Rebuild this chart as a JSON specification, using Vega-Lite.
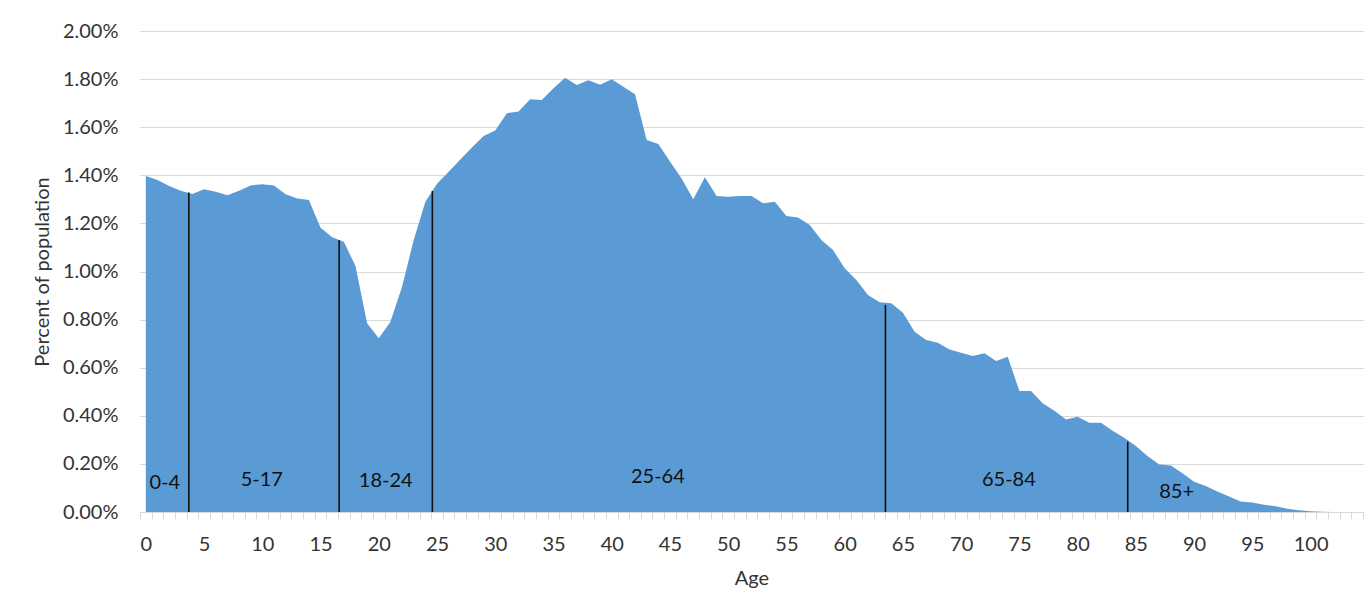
{
  "$schema": "https://vega.github.io/schema/vega-lite/v6.json",
  "width": 1223,
  "height": 481,
  "autosize": {"type": "none"},
  "padding": {"left": 140, "top": 31, "right": 9, "bottom": 89},
  "background": "white",
  "config": {
    "view": {"stroke": null},
    "font": "Lato",
    "axis": {"labelFont": "Lato", "titleFont": "Lato", "labelColor": "#333333", "titleColor": "#333333", "labelFontWeight": "normal", "titleFontWeight": "normal"}
  },
  "datasets": {
    "pop": [
      {"age": 0, "pct": 1.397}, {"age": 1, "pct": 1.380}, {"age": 2, "pct": 1.356}, {"age": 3, "pct": 1.336}, {"age": 4, "pct": 1.322},
      {"age": 5, "pct": 1.342}, {"age": 6, "pct": 1.332}, {"age": 7, "pct": 1.317}, {"age": 8, "pct": 1.336}, {"age": 9, "pct": 1.358},
      {"age": 10, "pct": 1.363}, {"age": 11, "pct": 1.358}, {"age": 12, "pct": 1.321}, {"age": 13, "pct": 1.304}, {"age": 14, "pct": 1.297},
      {"age": 15, "pct": 1.182}, {"age": 16, "pct": 1.142}, {"age": 17, "pct": 1.124}, {"age": 18, "pct": 1.023}, {"age": 19, "pct": 0.785},
      {"age": 20, "pct": 0.722}, {"age": 21, "pct": 0.791}, {"age": 22, "pct": 0.937}, {"age": 23, "pct": 1.131}, {"age": 24, "pct": 1.290},
      {"age": 25, "pct": 1.365}, {"age": 26, "pct": 1.415}, {"age": 27, "pct": 1.466}, {"age": 28, "pct": 1.516}, {"age": 29, "pct": 1.563},
      {"age": 30, "pct": 1.586}, {"age": 31, "pct": 1.658}, {"age": 32, "pct": 1.665}, {"age": 33, "pct": 1.716}, {"age": 34, "pct": 1.713},
      {"age": 35, "pct": 1.762}, {"age": 36, "pct": 1.806}, {"age": 37, "pct": 1.775}, {"age": 38, "pct": 1.795}, {"age": 39, "pct": 1.777},
      {"age": 40, "pct": 1.799}, {"age": 41, "pct": 1.768}, {"age": 42, "pct": 1.737}, {"age": 43, "pct": 1.547}, {"age": 44, "pct": 1.530},
      {"age": 45, "pct": 1.457}, {"age": 46, "pct": 1.387}, {"age": 47, "pct": 1.300}, {"age": 48, "pct": 1.392}, {"age": 49, "pct": 1.314},
      {"age": 50, "pct": 1.311}, {"age": 51, "pct": 1.314}, {"age": 52, "pct": 1.314}, {"age": 53, "pct": 1.284}, {"age": 54, "pct": 1.290},
      {"age": 55, "pct": 1.231}, {"age": 56, "pct": 1.225}, {"age": 57, "pct": 1.193}, {"age": 58, "pct": 1.131}, {"age": 59, "pct": 1.089},
      {"age": 60, "pct": 1.013}, {"age": 61, "pct": 0.965}, {"age": 62, "pct": 0.902}, {"age": 63, "pct": 0.872}, {"age": 64, "pct": 0.868},
      {"age": 65, "pct": 0.829}, {"age": 66, "pct": 0.750}, {"age": 67, "pct": 0.715}, {"age": 68, "pct": 0.704}, {"age": 69, "pct": 0.676},
      {"age": 70, "pct": 0.662}, {"age": 71, "pct": 0.649}, {"age": 72, "pct": 0.660}, {"age": 73, "pct": 0.628}, {"age": 74, "pct": 0.646},
      {"age": 75, "pct": 0.503}, {"age": 76, "pct": 0.503}, {"age": 77, "pct": 0.452}, {"age": 78, "pct": 0.421}, {"age": 79, "pct": 0.385},
      {"age": 80, "pct": 0.396}, {"age": 81, "pct": 0.371}, {"age": 82, "pct": 0.371}, {"age": 83, "pct": 0.338}, {"age": 84, "pct": 0.309},
      {"age": 85, "pct": 0.274}, {"age": 86, "pct": 0.233}, {"age": 87, "pct": 0.197}, {"age": 88, "pct": 0.193}, {"age": 89, "pct": 0.161},
      {"age": 90, "pct": 0.126}, {"age": 91, "pct": 0.108}, {"age": 92, "pct": 0.085}, {"age": 93, "pct": 0.064}, {"age": 94, "pct": 0.044},
      {"age": 95, "pct": 0.039}, {"age": 96, "pct": 0.030}, {"age": 97, "pct": 0.024}, {"age": 98, "pct": 0.014}, {"age": 99, "pct": 0.007},
      {"age": 100, "pct": 0.003}, {"age": 101, "pct": 0.001}, {"age": 102, "pct": 0}, {"age": 103, "pct": 0}, {"age": 104, "pct": 0}
    ],
    "bounds": [
      {"age": 3.69, "top": 1.328},
      {"age": 16.6, "top": 1.131},
      {"age": 24.6, "top": 1.335},
      {"age": 63.5, "top": 0.861},
      {"age": 84.3, "top": 0.292}
    ],
    "groups": [
      {"age": 1.63, "pos": 0.121, "label": "0-4"},
      {"age": 9.96, "pos": 0.133, "label": "5-17"},
      {"age": 20.6, "pos": 0.129, "label": "18-24"},
      {"age": 43.96, "pos": 0.144, "label": "25-64"},
      {"age": 74.1, "pos": 0.133, "label": "65-84"},
      {"age": 88.5, "pos": 0.084, "label": "85+"}
    ]
  },
  "layer": [
    {
      "data": {"name": "pop"},
      "mark": {"type": "area", "color": "#5B9BD5", "interpolate": "linear"},
      "encoding": {
        "x": {
          "field": "age", "type": "quantitative",
          "scale": {"domain": [-0.5, 104.5], "nice": false, "zero": false},
          "axis": {
            "title": "Age",
            "titleFontSize": 20,
            "titleY": 66,
            "titleBaseline": "middle",
            "tickCount": 500,
            "values": [-0.5,0.5,1.5,2.5,3.5,4.5,5.5,6.5,7.5,8.5,9.5,10.5,11.5,12.5,13.5,14.5,15.5,16.5,17.5,18.5,19.5,20.5,21.5,22.5,23.5,24.5,25.5,26.5,27.5,28.5,29.5,30.5,31.5,32.5,33.5,34.5,35.5,36.5,37.5,38.5,39.5,40.5,41.5,42.5,43.5,44.5,45.5,46.5,47.5,48.5,49.5,50.5,51.5,52.5,53.5,54.5,55.5,56.5,57.5,58.5,59.5,60.5,61.5,62.5,63.5,64.5,65.5,66.5,67.5,68.5,69.5,70.5,71.5,72.5,73.5,74.5,75.5,76.5,77.5,78.5,79.5,80.5,81.5,82.5,83.5,84.5,85.5,86.5,87.5,88.5,89.5,90.5,91.5,92.5,93.5,94.5,95.5,96.5,97.5,98.5,99.5,100.5,101.5,102.5,103.5,104.5],
            "labelExpr": "((datum.value + 0.5) % 5 == 0 && datum.value < 100.6) ? format(datum.value + 0.5, 'd') : ''",
            "labelOffset": 5.82,
            "labelFontSize": 20,
            "labelBaseline": "middle",
            "labelPadding": 25,
            "labelOverlap": false,
            "labelFlush": false,
            "labelBound": false,
            "tickSize": 7,
            "tickColor": "#d9d9d9",
            "domainColor": "#d9d9d9",
            "domainWidth": 1,
            "grid": false
          }
        },
        "y": {
          "field": "pct", "type": "quantitative",
          "scale": {"domain": [0, 2], "nice": false},
          "axis": {
            "title": "Percent of population",
            "titleFontSize": 20,
            "titleX": -98,
            "titleY": 240.5,
            "titleAngle": -90,
            "titleAlign": "center",
            "titleBaseline": "middle",
            "tickCount": 50,
            "values": [0, 0.2, 0.4, 0.6, 0.8, 1.0, 1.2, 1.4, 1.6, 1.8, 2.0],
            "labelExpr": "format(datum.value, '.2f') + '%'",
            "labelFontSize": 20,
            "labelPadding": 22,
            "labelFlush": false,
            "ticks": false,
            "tickSize": 0,
            "domain": false,
            "grid": true,
            "gridColor": "#d9d9d9",
            "gridWidth": 1.2
          }
        }
      }
    },
    {
      "data": {"name": "bounds"},
      "mark": {"type": "rule", "color": "#111111", "strokeWidth": 1.6},
      "encoding": {
        "x": {"field": "age", "type": "quantitative"},
        "y": {"field": "top", "type": "quantitative"},
        "y2": {"datum": 0}
      }
    },
    {
      "data": {"name": "groups"},
      "mark": {"type": "text", "font": "Lato", "fontSize": 20, "color": "#111111", "align": "center", "baseline": "middle"},
      "encoding": {
        "x": {"field": "age", "type": "quantitative"},
        "y": {"field": "pos", "type": "quantitative"},
        "text": {"field": "label"}
      }
    }
  ]
}
